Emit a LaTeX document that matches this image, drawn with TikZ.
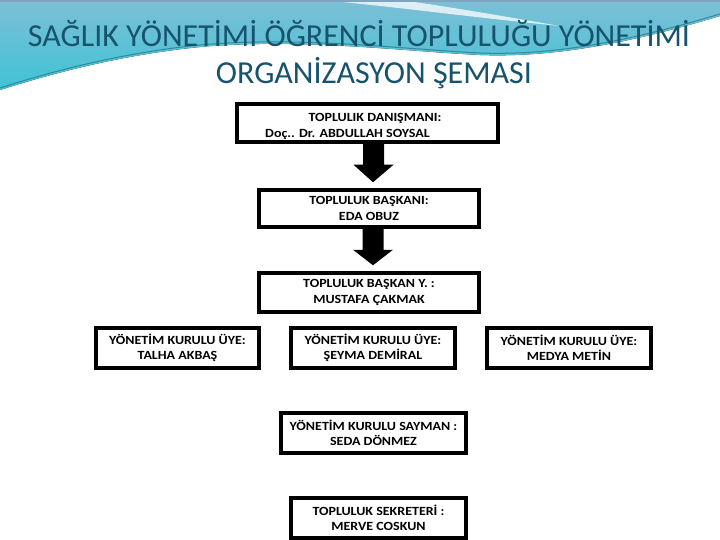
\documentclass[tikz,border=0pt]{standalone}
\usepackage{fontspec}
\usetikzlibrary{calc}
\newfontfamily\titlefont{Carlito}
\newfontfamily\boxfont[FakeStretch=1.12]{Carlito}
\definecolor{titlecol}{HTML}{17536B}
\definecolor{hdrtop}{HTML}{7DBFD6}
\definecolor{hdrbot}{HTML}{3FC3D6}
\definecolor{wavecol}{HTML}{2D8A9C}
\definecolor{edgecol}{HTML}{7FA4C0}
\tikzset{
  box/.style={draw=black, line width=3.5pt, fill=white, inner sep=0pt,
    font=\boxfont\bfseries\fontsize{12.5}{15.5}\selectfont, align=center},
  boxtext/.style={inner sep=0pt, font=\boxfont\bfseries\fontsize{12.5}{16}\selectfont, anchor=base},
  blockarrow/.style={fill=black},
  titletext/.style={inner sep=0pt, anchor=base, text=titlecol, font=\titlefont\fontsize{32}{36}\selectfont}
}
\begin{document}
\begin{tikzpicture}[x=1pt,y=-1pt]
\useasboundingbox (0,0) rectangle (720,540);
\fill[white] (0,0) rectangle (720,540);
% header
\fill[top color=hdrtop, bottom color=hdrbot] (0,0) -- (720,0) -- (720,16)
  .. controls (640,40) and (560,58) .. (480,55)
  .. controls (400,51) and (300,38) .. (200,47)
  .. controls (120,55) and (50,74) .. (0,90) -- cycle;
\fill[white, opacity=0.75] (320,0) .. controls (390,6) and (460,16) .. (560,26)
  .. controls (480,12) and (430,4) .. (400,0) -- cycle;
\draw[wavecol, line width=1pt] (0,88) .. controls (50,72) and (120,53) .. (200,45)
  .. controls (300,36) and (400,49) .. (480,53) .. controls (560,56) and (640,38) .. (720,14);
\draw[edgecol, line width=2pt] (0,1) -- (720,1);
\node[titletext] (t1) at (359,47) {SAĞLIK YÖNETİMİ ÖĞRENCİ TOPLULUĞU YÖNETİMİ};
\node[titletext] (t2) at (374,84) {ORGANİZASYON ŞEMASI};
% boxes
\node[box, minimum width=261pt, minimum height=38pt] (b1) at (367.5,123) {};
\node[boxtext] (b1a) at (375,122) {TOPLULIK DANIŞMANI:};
\node[boxtext, anchor=base west] (b1b) at (265,138) {Doç.. Dr. ABDULLAH SOYSAL};
\node[box, minimum width=220pt, minimum height=37pt] (b2) at (369,208.5) {TOPLULUK BAŞKANI:\\EDA OBUZ};
\node[box, minimum width=220pt, minimum height=39pt] (b3) at (369,292.5) {TOPLULUK BAŞKAN Y. :\\MUSTAFA ÇAKMAK};
\node[box, minimum width=163pt, minimum height=40pt] (u1) at (177.5,348) {YÖNETİM KURULU ÜYE:\\TALHA AKBAŞ};
\node[box, minimum width=164pt, minimum height=40pt] (u2) at (373,348) {YÖNETİM KURULU ÜYE:\\ŞEYMA DEMİRAL};
\node[box, minimum width=164pt, minimum height=40pt] (u3) at (569,348) {YÖNETİM KURULU ÜYE:\\MEDYA METİN};
\node[box, minimum width=185pt, minimum height=40pt] (s1) at (373.5,433) {YÖNETİM KURULU SAYMAN :\\SEDA DÖNMEZ};
\node[box, minimum width=175pt, minimum height=40pt] (s2) at (378.5,518) {TOPLULUK SEKRETERİ :\\MERVE COSKUN};
% block arrows (centre x = 373)
\fill[blockarrow] ($(b1.south)+(-4.5,0)$) -- ++(21,0) -- ++(0,21) -- ++(9.5,0)
  -- ($(b2.north)+(4,-6)$) -- ($(b1.south)+(-14,21)$) -- ++(9.5,0) -- cycle;
\fill[blockarrow] ($(b2.south)+(-6.5,0)$) -- ++(21,0) -- ++(0,21) -- ++(9.5,0)
  -- ($(b3.north)+(4,-6)$) -- ($(b2.south)+(-16,21)$) -- ++(9.5,0) -- cycle;
\end{tikzpicture}
\end{document}
